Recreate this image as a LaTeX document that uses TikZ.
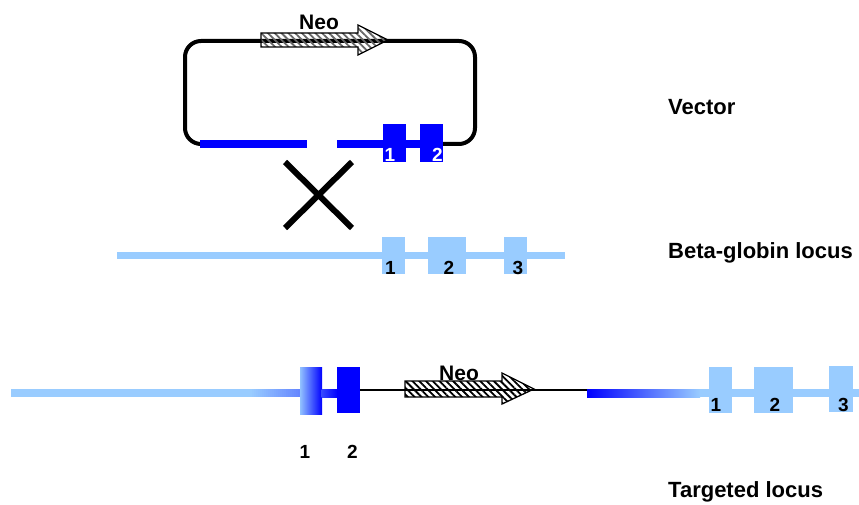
\documentclass[tikz,border=0pt]{standalone}
\usepackage{fontspec}
\setmainfont{Liberation Sans}
\usetikzlibrary{patterns.meta}
\definecolor{exonblue}{HTML}{0000FF}
\definecolor{paleblue}{HTML}{99CCFF}
\tikzset{
  lbl/.style={font=\fontsize{22}{26}\selectfont\bfseries, inner sep=0pt, anchor=base west},
  num/.style={font=\fontsize{19}{22}\selectfont\bfseries, inner sep=0pt, anchor=base},
  exon/.style={rectangle, inner sep=0pt, outer sep=0pt, draw=none, minimum width=23pt},
  neoarrow/.style={draw=black, line width=1.3pt, line join=miter,
    pattern={Lines[angle=-45,distance=4.8pt,line width=1.8pt]}},
}
\begin{document}
\begin{tikzpicture}[x=1pt,y=-1pt]
\fill[white] (0,0) rectangle (859,505);
\useasboundingbox (0,0) rectangle (859,505);

% ---------- Vector (circular plasmid) ----------
\draw[line width=4pt, rounded corners=16pt] (205,144) -| (185,41) -| (475,144) -- (438,144);
\filldraw[neoarrow, pattern color=black!60]
  (261,33) -- (358,33) -- (358,25) -- (388,40) -- (358,55) -- (358,47) -- (261,47) -- cycle;
\node[num, font=\fontsize{21}{24}\selectfont\bfseries] (neoV) at (319,30) {Neo};
\fill[exonblue] (200,140) rectangle (307,148);
\fill[exonblue] (337,140) rectangle (443,148);
\node[exon, fill=exonblue, minimum height=38pt] (v1) at (394.5,143) {};
\node[exon, fill=exonblue, minimum height=38pt] (v2) at (431.5,143) {};
\node[num, text=white] (v1l) at (390,162) {1};
\node[num, text=white] (v2l) at (437.5,162) {2};

% ---------- crossover ----------
\coordinate (xa) at (285,162); \coordinate (xb) at (352,228);
\coordinate (xc) at (352,162); \coordinate (xd) at (285,228);
\draw[line width=6pt] (xa) -- (xb) (xc) -- (xd);

% ---------- Beta-globin locus ----------
\fill[paleblue] (117,252) rectangle (565,259);
\node[exon, fill=paleblue, minimum height=37pt] (b1) at (393.5,255.5) {};
\node[exon, fill=paleblue, minimum height=37pt, minimum width=38pt] (b2) at (447,255.5) {};
\node[exon, fill=paleblue, minimum height=37pt] (b3) at (515.5,255.5) {};
\node[num] (b1l) at (390.5,274) {1};
\node[num] (b2l) at (449,274) {2};
\node[num] (b3l) at (518,274) {3};

% ---------- Targeted locus ----------
\fill[paleblue] (11,389) rectangle (250,397);
% left arm darkening towards exon 1, drawn as thin strips
\foreach \i in {0,...,24} {
  \pgfmathsetmacro{\mix}{100-1.4*\i}
  \fill[paleblue!\mix!exonblue] ({250+2*\i},389) rectangle ({252.6+2*\i},397);
}
\shade[left color=paleblue!95!exonblue, middle color=paleblue!55!exonblue, right color=exonblue] (300,367) rectangle (322,414);
\shade[left color=paleblue!35!exonblue, right color=exonblue] (321.5,389) rectangle (337.5,397);
\node[exon, fill=exonblue, minimum height=46pt] (t2) at (348.5,390) {};
\coordinate (gradstart) at (587,390);
\draw[line width=1.4pt] (t2.east) -- (gradstart);
\filldraw[neoarrow, pattern color=black]
  (405,381) -- (502,381) -- (502,373) -- (534,389) -- (502,404) -- (502,397) -- (405,397) -- cycle;
\node[num, font=\fontsize{21}{24}\selectfont\bfseries] (neoT) at (459,380) {Neo};
\shade[left color=exonblue, right color=paleblue] (587,389) rectangle (700,397);
\fill[paleblue] (699.5,389) rectangle (859,397);
\node[exon, fill=paleblue, minimum height=46pt] (t3) at (720.5,390) {};
\node[exon, fill=paleblue, minimum height=46pt, minimum width=39pt] (t4) at (773.5,390) {};
\node[exon, fill=paleblue, minimum height=46pt, minimum width=24pt] (t5) at (841,389) {};
\node[num] (t3l) at (716,411) {1};
\node[num] (t4l) at (775,411) {2};
\node[num] (t5l) at (843.5,411) {3};
\node[num] (t1l) at (305,458) {1};
\node[num] (t2l) at (352.5,458) {2};

% ---------- captions ----------
\node[lbl] (capV) at (668,115) {Vector};
\node[lbl] (capB) at (668,258) {Beta-globin locus};
\node[lbl] (capT) at (668,497) {Targeted locus};
\end{tikzpicture}
\end{document}
